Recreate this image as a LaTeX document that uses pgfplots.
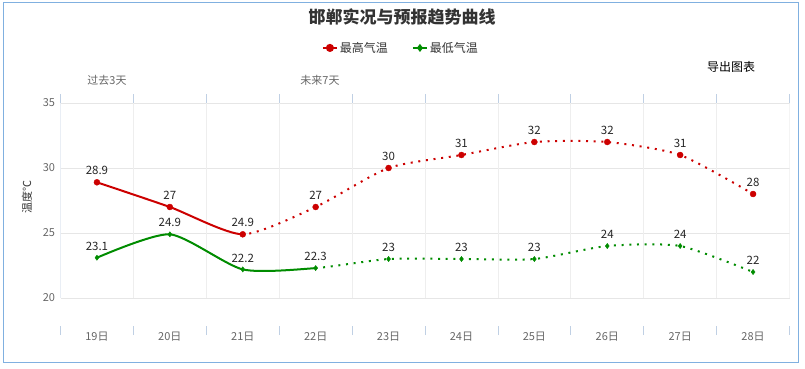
\documentclass[border=0pt]{standalone}
\usepackage{fontspec}
\setmainfont{Noto Sans CJK SC}
\usepackage{pgfplots}
\usepackage{pgfplotstable}
\pgfplotsset{compat=1.18}
\definecolor{hired}{RGB}{204,0,0}
\definecolor{logreen}{RGB}{0,140,0}
\definecolor{axiscol}{RGB}{192,208,228}
\definecolor{gridcol}{RGB}{230,230,230}
\definecolor{vgridcol}{RGB}{238,238,238}
\definecolor{framecol}{RGB}{128,176,224}
\definecolor{txt}{RGB}{51,51,51}
\definecolor{ticktxt}{RGB}{102,102,102}

\pgfplotstableread{
x hi lo
0 28.9 23.1
1 27 24.9
2 24.9 22.2
3 27 22.3
4 30 23
5 31 23
6 32 23
7 32 24
8 31 24
9 28 22
}\temps

\begin{document}
\begin{tikzpicture}
\path[use as bounding box] (0pt,0pt) rectangle (805pt,368pt);
\draw[framecol, line width=1pt] (3pt,5.3pt) rectangle (798pt,365.3pt);
\node[font=\fontsize{17}{20}\selectfont\bfseries, text=txt] at (402pt,351pt) {邯郸实况与预报趋势曲线};
\node[font=\fontsize{12}{14}\selectfont, text=black] at (731pt,301pt) {导出图表};
\node[font=\fontsize{11}{13}\selectfont, text=ticktxt] at (107pt,288pt) {过去3天};
\node[font=\fontsize{11}{13}\selectfont, text=ticktxt] at (320pt,288pt) {未来7天};
\begin{axis}[
  at={(60.5pt,42pt)}, anchor=south west,
  scale only axis, width=729pt, height=223pt,
  xmin=-0.5, xmax=9.5, ymin=17.846, ymax=35,
  /pgf/number format/assume math mode=true,
  x axis line style={draw=axiscol, line width=0.8pt},
  y axis line style={draw=none},
  xtick={0,...,9},
  xticklabels={19日,20日,21日,22日,23日,24日,25日,26日,27日,28日},
  ytick={20,25,30,35},
  major tick length=0pt,
  tick style={draw=axiscol, line width=0.8pt},
  extra x ticks={-0.5,0.5,1.5,2.5,3.5,4.5,5.5,6.5,7.5,8.5,9.5},
  extra x tick labels={},
  extra x tick style={major tick length=9pt, tick align=outside, xtick pos=both, grid=none},
  ymajorgrids, grid style={draw=gridcol, line width=0.8pt},
  ticklabel style={font=\fontsize{11}{13}\selectfont, text=ticktxt},
  yticklabel style={xshift=-2pt},
  xticklabel style={yshift=-2pt},
  ylabel={温度℃},
  ylabel style={at={(axis description cs:-0.046,0.578)}, anchor=center, font=\fontsize{11}{13}\selectfont, text=txt},
  legend style={at={(axis description cs:0.467,1.247)}, anchor=center, draw=none, fill=none,
    font=\fontsize{12}{14}\selectfont, text=txt, legend columns=2,
    /tikz/every even column/.append style={column sep=22pt}},
  legend image code/.code={\draw[#1, mark repeat=2, mark phase=2] plot coordinates {(0pt,0pt) (7pt,0pt) (14pt,0pt)};},
  nodes near coords,
  every node near coord/.append style={font=\fontsize{11.5}{13}\selectfont, text=black!85, inner sep=2pt, yshift=5pt},
]
\pgfplotsinvokeforeach{0.5,1.5,2.5,3.5,4.5,5.5,6.5,7.5,8.5,9.5}{
  \draw[vgridcol, line width=0.8pt] (axis cs:#1,20) -- (axis cs:#1,35);
}
\draw[axiscol, line width=0.8pt] (axis cs:-0.5,20) -- (axis cs:-0.5,35);

% high: solid part
\begin{scope}
\clip (axis cs:-0.5,17.846) rectangle (axis cs:2,35);
\addplot[hired, line width=2pt, smooth, tension=0.4, no marks, nodes near coords=\empty, forget plot] table[x=x,y=hi] {\temps};
\end{scope}
\begin{scope}
\clip (axis cs:2,17.846) rectangle (axis cs:9.5,35);
\addplot[hired, line width=2pt, smooth, tension=0.4, no marks, dash pattern=on 2pt off 5.7pt, nodes near coords=\empty, forget plot] table[x=x,y=hi] {\temps};
\end{scope}
% low
\begin{scope}
\clip (axis cs:-0.5,17.846) rectangle (axis cs:3,35);
\addplot[logreen, line width=2pt, smooth, tension=0.4, no marks, nodes near coords=\empty, forget plot] table[x=x,y=lo] {\temps};
\end{scope}
\begin{scope}
\clip (axis cs:3,17.846) rectangle (axis cs:9.5,35);
\addplot[logreen, line width=2pt, smooth, tension=0.4, no marks, dash pattern=on 2pt off 5.7pt, nodes near coords=\empty, forget plot] table[x=x,y=lo] {\temps};
\end{scope}

\addplot[only marks, mark=*, mark size=3pt, hired, forget plot] table[x=x,y=hi] {\temps};
\addplot[only marks, mark=diamond*, mark size=2.6pt, logreen, forget plot] table[x=x,y=lo] {\temps};

\addlegendimage{hired, line width=2pt, mark=*, mark size=3pt}
\addlegendentry{最高气温}
\addlegendimage{logreen, line width=2pt, mark=diamond*, mark size=2.4pt}
\addlegendentry{最低气温}
\end{axis}
\end{tikzpicture}
\end{document}
